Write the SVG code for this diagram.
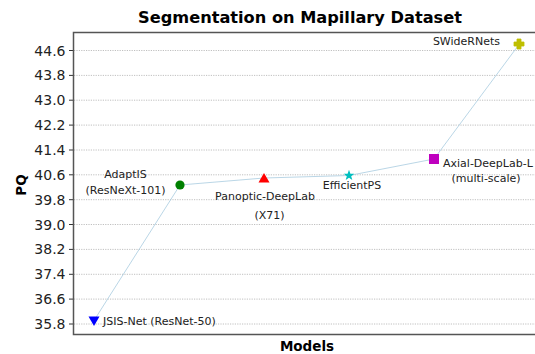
<svg xmlns="http://www.w3.org/2000/svg" width="535" height="354" viewBox="0 0 535 354">
  <style>
    text { font-family: "DejaVu Sans", "Liberation Sans", sans-serif; fill: #000; }
    .title { font-size: 16.2px; font-weight: bold; }
    .axlabel { font-size: 13.5px; font-weight: bold; }
    .tick { font-size: 14px; text-anchor: end; fill: #222; }
    .lbl { font-size: 11px; fill: #222; }
    .grid line { stroke: #b0b0b0; stroke-width: 0.8; stroke-dasharray: 1.2 1.2; }
    .ticks line { stroke: #333; stroke-width: 1; }
    .spine { stroke: #555; stroke-width: 1.5; fill: none; }
    .trend { stroke: #a8cce0; stroke-width: 0.8; fill: none; }
  </style>

  <rect width="535" height="354" fill="#fff"/>

  <text class="title" x="300" y="23" text-anchor="middle">Segmentation on Mapillary Dataset</text>

  <!-- horizontal grid -->
  <g class="grid">
    <line x1="74" y1="50.5" x2="535" y2="50.5"/>
    <line x1="74" y1="75.4" x2="535" y2="75.4"/>
    <line x1="74" y1="100.2" x2="535" y2="100.2"/>
    <line x1="74" y1="125.1" x2="535" y2="125.1"/>
    <line x1="74" y1="150.0" x2="535" y2="150.0"/>
    <line x1="74" y1="174.8" x2="535" y2="174.8"/>
    <line x1="74" y1="199.7" x2="535" y2="199.7"/>
    <line x1="74" y1="224.5" x2="535" y2="224.5"/>
    <line x1="74" y1="249.4" x2="535" y2="249.4"/>
    <line x1="74" y1="274.3" x2="535" y2="274.3"/>
    <line x1="74" y1="299.1" x2="535" y2="299.1"/>
    <line x1="74" y1="324.0" x2="535" y2="324.0"/>
  </g>

  <!-- y ticks -->
  <g class="ticks">
    <line x1="69" y1="50.5" x2="73.5" y2="50.5"/>
    <line x1="69" y1="75.4" x2="73.5" y2="75.4"/>
    <line x1="69" y1="100.2" x2="73.5" y2="100.2"/>
    <line x1="69" y1="125.1" x2="73.5" y2="125.1"/>
    <line x1="69" y1="150.0" x2="73.5" y2="150.0"/>
    <line x1="69" y1="174.8" x2="73.5" y2="174.8"/>
    <line x1="69" y1="199.7" x2="73.5" y2="199.7"/>
    <line x1="69" y1="224.5" x2="73.5" y2="224.5"/>
    <line x1="69" y1="249.4" x2="73.5" y2="249.4"/>
    <line x1="69" y1="274.3" x2="73.5" y2="274.3"/>
    <line x1="69" y1="299.1" x2="73.5" y2="299.1"/>
    <line x1="69" y1="324.0" x2="73.5" y2="324.0"/>
  </g>
  <g>
    <text class="tick" x="65.5" y="55.5">44.6</text>
    <text class="tick" x="65.5" y="80.4">43.8</text>
    <text class="tick" x="65.5" y="105.2">43.0</text>
    <text class="tick" x="65.5" y="130.1">42.2</text>
    <text class="tick" x="65.5" y="155.0">41.4</text>
    <text class="tick" x="65.5" y="179.8">40.6</text>
    <text class="tick" x="65.5" y="204.7">39.8</text>
    <text class="tick" x="65.5" y="229.5">39.0</text>
    <text class="tick" x="65.5" y="254.4">38.2</text>
    <text class="tick" x="65.5" y="279.3">37.4</text>
    <text class="tick" x="65.5" y="304.1">36.6</text>
    <text class="tick" x="65.5" y="329.0">35.8</text>
  </g>

  <!-- axes frame (left, top, bottom) -->
  <path class="spine" d="M535 32.5 H73.5 V334.5 H535"/>

  <text class="axlabel" transform="translate(26,185) rotate(-90)" text-anchor="middle">PQ</text>
  <text class="axlabel" x="307" y="350.5" text-anchor="middle">Models</text>

  <!-- trend line through the models -->
  <g id="connectors">
    <polyline class="trend" points="94,320.5 180,185 264,178 349,175.5 434,159 519,44.5"/>
  </g>

  <g id="jsis-net">
    <path d="M88.5,316.5 H99.5 L94,326 Z" fill="#0000ff"/>
    <text class="lbl" x="103" y="325">JSIS-Net (ResNet-50)</text>
  </g>

  <g id="adaptis">
    <circle cx="180" cy="185" r="4.6" fill="#008000"/>
    <text class="lbl" x="125.5" y="178" text-anchor="middle">AdaptIS</text>
    <text class="lbl" x="125.5" y="193.5" text-anchor="middle">(ResNeXt-101)</text>
  </g>

  <g id="panoptic-deeplab">
    <path d="M264,173 L269.5,182.5 H258.5 Z" fill="#ff0000"/>
    <text class="lbl" x="265" y="200" text-anchor="middle">Panoptic-DeepLab</text>
    <text class="lbl" x="269.5" y="219" text-anchor="middle">(X71)</text>
  </g>

  <g id="efficientps">
    <path d="M349,169.8 L350.4,173.7 L354.3,173.8 L351.2,176.2 L352.3,180.1 L349,177.8 L345.7,180.1 L346.8,176.2 L343.7,173.8 L347.6,173.7 Z" fill="#00bfbf"/>
    <text class="lbl" x="352" y="189" text-anchor="middle">EfficientPS</text>
  </g>

  <g id="axial-deeplab-l">
    <rect x="429" y="154" width="10" height="10" fill="#bf00bf"/>
    <text class="lbl" x="443" y="166.5">Axial-DeepLab-L</text>
    <text class="lbl" x="486" y="182" text-anchor="middle">(multi-scale)</text>
  </g>

  <g id="swiderrnets">
    <path d="M517,39 H521 V42 H524 V46 H521 V49 H517 V46 H514 V42 H517 Z" fill="#bfbf00" stroke="#bfbf00" stroke-width="0.8" stroke-linejoin="round"/>
    <text class="lbl" x="500" y="45" text-anchor="end">SWideRNets</text>
  </g>
</svg>
